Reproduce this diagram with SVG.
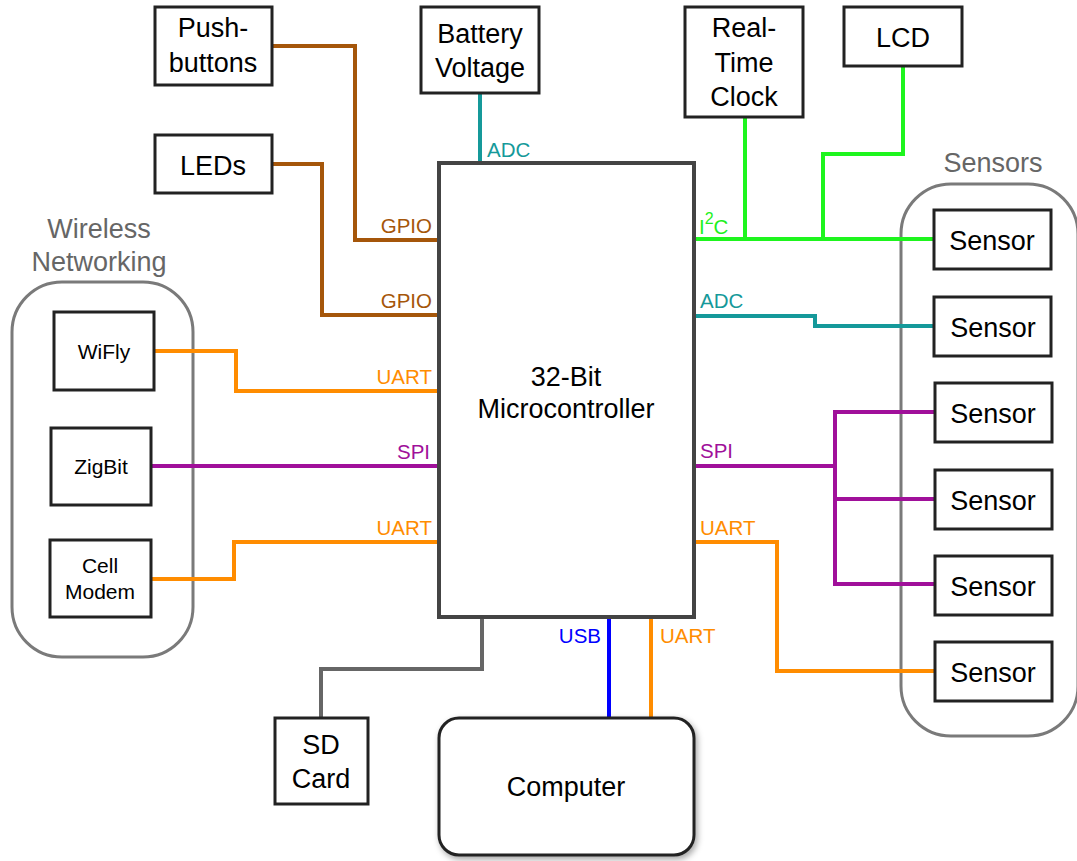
<svg xmlns="http://www.w3.org/2000/svg" width="1077" height="861" viewBox="0 0 1077 861">
<defs>
<style>
.box{fill:#fff;stroke:#222;stroke-width:3}
.grp{fill:none;stroke:#7a7a7a;stroke-width:3}
.t{font-family:"Liberation Sans",Arial,sans-serif;font-size:27px;fill:#000;text-anchor:middle}
.ts{font-family:"Liberation Sans",Arial,sans-serif;font-size:21px;fill:#000;text-anchor:middle}
.gl{font-family:"Liberation Sans",Arial,sans-serif;font-size:27px;fill:#666;text-anchor:middle}
.lb{font-family:"Liberation Sans",Arial,sans-serif;font-size:20.5px}
.w{fill:none;stroke-width:4;stroke-linejoin:miter;stroke-linecap:butt}
.gpio{stroke:#A5560A}.gpiot{fill:#A5560A}
.adc{stroke:#15999A}.adct{fill:#15999A}
.i2c{stroke:#1EF51E}.i2ct{fill:#1EF01E}
.uart{stroke:#FF8C00}.uartt{fill:#FF8C00}
.spi{stroke:#A0109A}.spit{fill:#A0109A}
.usb{stroke:#0000FF}.usbt{fill:#0000FF}
.sd{stroke:#666}
</style>
<filter id="sh" x="-10%" y="-10%" width="130%" height="130%">
<feDropShadow dx="2" dy="3" stdDeviation="3" flood-color="#000" flood-opacity="0.35"/>
</filter>
</defs>
<rect width="1077" height="861" fill="#fff"/>

<g id="groups">
<rect class="grp" x="12" y="282" width="181" height="375" rx="50"/>
<text class="gl" x="99" y="238">Wireless</text>
<text class="gl" x="99" y="271">Networking</text>
<rect class="grp" x="901" y="184" width="177" height="552" rx="50"/>
<text class="gl" x="993" y="172">Sensors</text>
</g>

<g id="connectors">
<path class="w gpio" d="M272,46 H355 V240 H439"/>
<path class="w gpio" d="M272,164 H322 V315 H439"/>
<path class="w adc" d="M480,93 V163"/>
<path class="w i2c" d="M694,239 H934"/>
<path class="w i2c" d="M745,117 V239"/>
<path class="w i2c" d="M903,66 V154 H823 V239"/>
<path class="w adc" d="M694,316 H815 V326 H934"/>
<path class="w spi" d="M694,466 H835"/>
<path class="w spi" d="M934,412 H835 V584 H934"/>
<path class="w spi" d="M835,499 H934"/>
<path class="w uart" d="M694,542 H777 V671 H934"/>
<path class="w uart" d="M154,351 H236 V391 H439"/>
<path class="w spi" d="M151,466 H439"/>
<path class="w uart" d="M151,579 H234 V542 H439"/>
<path class="w sd" d="M482,617 V669 H321 V718"/>
<path class="w usb" d="M609,617 V718"/>
<path class="w uart" d="M651,617 V718"/>

<text class="lb gpiot" x="432" y="233" text-anchor="end">GPIO</text>
<text class="lb gpiot" x="432" y="308" text-anchor="end">GPIO</text>
<text class="lb uartt" x="432" y="384" text-anchor="end">UART</text>
<text class="lb spit" x="430" y="459" text-anchor="end">SPI</text>
<text class="lb uartt" x="432" y="535" text-anchor="end">UART</text>
<text class="lb adct" x="487" y="157">ADC</text>
<text class="lb i2ct" x="699" y="234">I<tspan font-size="16" dy="-10">2</tspan><tspan dy="10">C</tspan></text>
<text class="lb adct" x="700" y="308">ADC</text>
<text class="lb spit" x="700" y="458">SPI</text>
<text class="lb uartt" x="700" y="535">UART</text>
<text class="lb usbt" x="601" y="643" text-anchor="end">USB</text>
<text class="lb uartt" x="660" y="643">UART</text>
</g>

<g id="mcu">
<rect x="439" y="163" width="255" height="454" fill="#fff" stroke="#444" stroke-width="4"/>
<text class="t" x="566" y="386">32-Bit</text>
<text class="t" x="566" y="418">Microcontroller</text>
</g>

<g id="pushbuttons">
<rect class="box" x="155" y="7" width="117" height="78"/>
<text class="t" x="213" y="37">Push-</text>
<text class="t" x="213" y="72">buttons</text>
</g>
<g id="leds">
<rect class="box" x="155" y="135" width="117" height="58"/>
<text class="t" x="213" y="175">LEDs</text>
</g>
<g id="battery">
<rect class="box" x="421" y="7" width="118" height="86"/>
<text class="t" x="480" y="43">Battery</text>
<text class="t" x="480" y="77">Voltage</text>
</g>
<g id="rtc">
<rect class="box" x="685" y="7" width="118" height="110"/>
<text class="t" x="744" y="37">Real-</text>
<text class="t" x="744" y="72">Time</text>
<text class="t" x="744" y="106">Clock</text>
</g>
<g id="lcd">
<rect class="box" x="844" y="7" width="118" height="59"/>
<text class="t" x="903" y="47">LCD</text>
</g>

<g id="wifly">
<rect class="box" x="54" y="312" width="100" height="78"/>
<text class="ts" x="104" y="359">WiFly</text>
</g>
<g id="zigbit">
<rect class="box" x="51" y="428" width="100" height="77"/>
<text class="ts" x="101" y="474">ZigBit</text>
</g>
<g id="cellmodem">
<rect class="box" x="50" y="540" width="101" height="77"/>
<text class="ts" x="100" y="573">Cell</text>
<text class="ts" x="100" y="599">Modem</text>
</g>

<g id="sensor1"><rect class="box" x="934" y="210" width="117" height="59"/><text class="t" x="992" y="250">Sensor</text></g>
<g id="sensor2"><rect class="box" x="934" y="297" width="117" height="59"/><text class="t" x="993" y="337">Sensor</text></g>
<g id="sensor3"><rect class="box" x="935" y="383" width="117" height="59"/><text class="t" x="993" y="423">Sensor</text></g>
<g id="sensor4"><rect class="box" x="935" y="470" width="117" height="59"/><text class="t" x="993" y="510">Sensor</text></g>
<g id="sensor5"><rect class="box" x="935" y="556" width="117" height="59"/><text class="t" x="993" y="596">Sensor</text></g>
<g id="sensor6"><rect class="box" x="935" y="642" width="117" height="59"/><text class="t" x="993" y="682">Sensor</text></g>

<g id="sdcard">
<rect class="box" x="275" y="718" width="93" height="86"/>
<text class="t" x="321" y="754">SD</text>
<text class="t" x="321" y="788">Card</text>
</g>
<g id="computer">
<rect x="439" y="718" width="255" height="137" rx="20" fill="#fff" stroke="#222" stroke-width="3" filter="url(#sh)"/>
<text class="t" x="566" y="796">Computer</text>
</g>
</svg>
